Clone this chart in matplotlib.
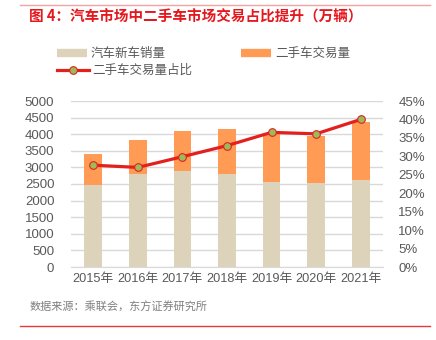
import matplotlib
matplotlib.use("Agg")
import matplotlib.pyplot as plt
from matplotlib.lines import Line2D

plt.rcParams['font.family'] = ['Liberation Sans', 'Noto Sans CJK SC', 'DejaVu Sans']

years = ['2015年', '2016年', '2017年', '2018年', '2019年', '2020年', '2021年']
new_car = [2460, 2800, 2880, 2800, 2570, 2520, 2620]
used_car = [930, 1030, 1230, 1370, 1480, 1420, 1750]
used_ratio = [27.6, 27.0, 29.9, 32.9, 36.5, 36.1, 40.0]
left_ticks = [0, 500, 1000, 1500, 2000, 2500, 3000, 3500, 4000, 4500, 5000]
right_ticks = [0, 5, 10, 15, 20, 25, 30, 35, 40, 45]

BEIGE = '#DDD3BB'
ORANGE = '#FF9B55'
RED = '#E3201E'
GREEN = '#9BBB59'
GREY = '#595959'
GRID = '#D9D9D9'
CJK = ['Noto Sans CJK SC', 'DejaVu Sans']

fig = plt.figure(figsize=(4.36, 3.40), dpi=100)
W, H = 436, 340
ax = fig.add_axes([71 / W, 1 - 267 / H, (383 - 71) / W, (267 - 101) / H])

x = list(range(len(years)))
ax.bar(x, new_car, width=0.40, color=BEIGE, zorder=2)
ax.bar(x, used_car, width=0.40, bottom=new_car, color=ORANGE, zorder=2)
ax.set_ylim(0, 5000)
ax.set_xlim(-0.5, len(years) - 0.5)
ax.set_yticks(left_ticks)
ax.set_yticklabels([str(v) for v in left_ticks])
ax.set_xticks(x)
ax.set_xticklabels(years)
ax.yaxis.grid(True, color=GRID, linewidth=1.0, zorder=0)
ax.set_axisbelow(True)
for s in ax.spines.values():
    s.set_visible(False)
ax.spines['bottom'].set_visible(True)
ax.spines['bottom'].set_color(GRID)
ax.tick_params(axis='both', length=0, colors=GREY, labelsize=9.5)
ax.tick_params(axis='x', labelsize=9.2, pad=4)
ax.tick_params(axis='y', pad=12)

ax2 = ax.twinx()
ax2.plot(x, used_ratio, color=RED, linewidth=2.3, marker='o', markersize=5.5,
         markerfacecolor=GREEN, markeredgecolor=RED, markeredgewidth=0.8, zorder=5)
ax2.set_ylim(0, 45)
ax2.set_yticks(right_ticks)
ax2.set_yticklabels([f'{v}%' for v in right_ticks])
for s in ax2.spines.values():
    s.set_visible(False)
ax2.tick_params(axis='y', length=0, colors=GREY, labelsize=9.5, pad=11)

# Title and decorations
fig.add_artist(Line2D([20 / W, 430 / W], [1 - 5 / H, 1 - 5 / H], color='#F4A3A3', linewidth=1.0))
fig.text(29 / W, 1 - 17 / H, '图 4：汽车市场中二手车市场交易占比提升（万辆）', color='#E5181E',
         fontsize=10.5, fontweight='bold', va='center', ha='left', family=CJK)
fig.add_artist(Line2D([20 / W, 430 / W], [1 - 326 / H, 1 - 326 / H], color='#E8393A', linewidth=1.0))
fig.text(30 / W, 1 - 307 / H, '数据来源：乘联会，东方证券研究所', color='#7F7F7F',
         fontsize=8, va='center', ha='left', family=CJK)

# Legend
def leg_patch(x0, y0, color, label):
    fig.add_artist(Line2D([x0 / W, (x0 + 30) / W], [1 - y0 / H, 1 - y0 / H], color=color,
                          linewidth=6, solid_capstyle='butt'))
    fig.text((x0 + 34) / W, 1 - y0 / H, label, color=GREY, fontsize=9, va='center', ha='left',
             family=CJK)

leg_patch(57, 53, BEIGE, '汽车新车销量')
leg_patch(241, 53, ORANGE, '二手车交易量')
fig.add_artist(Line2D([57 / W, 89 / W], [1 - 70 / H, 1 - 70 / H], color=RED, linewidth=2.3))
fig.add_artist(Line2D([73 / W], [1 - 70 / H], marker='o', markersize=5.5, markerfacecolor=GREEN,
                      markeredgecolor=RED, markeredgewidth=0.8))
fig.text(92 / W, 1 - 70 / H, '二手车交易量占比', color=GREY, fontsize=9, va='center', ha='left',
         family=CJK)

fig.savefig('out.png', dpi=100, facecolor='white')
